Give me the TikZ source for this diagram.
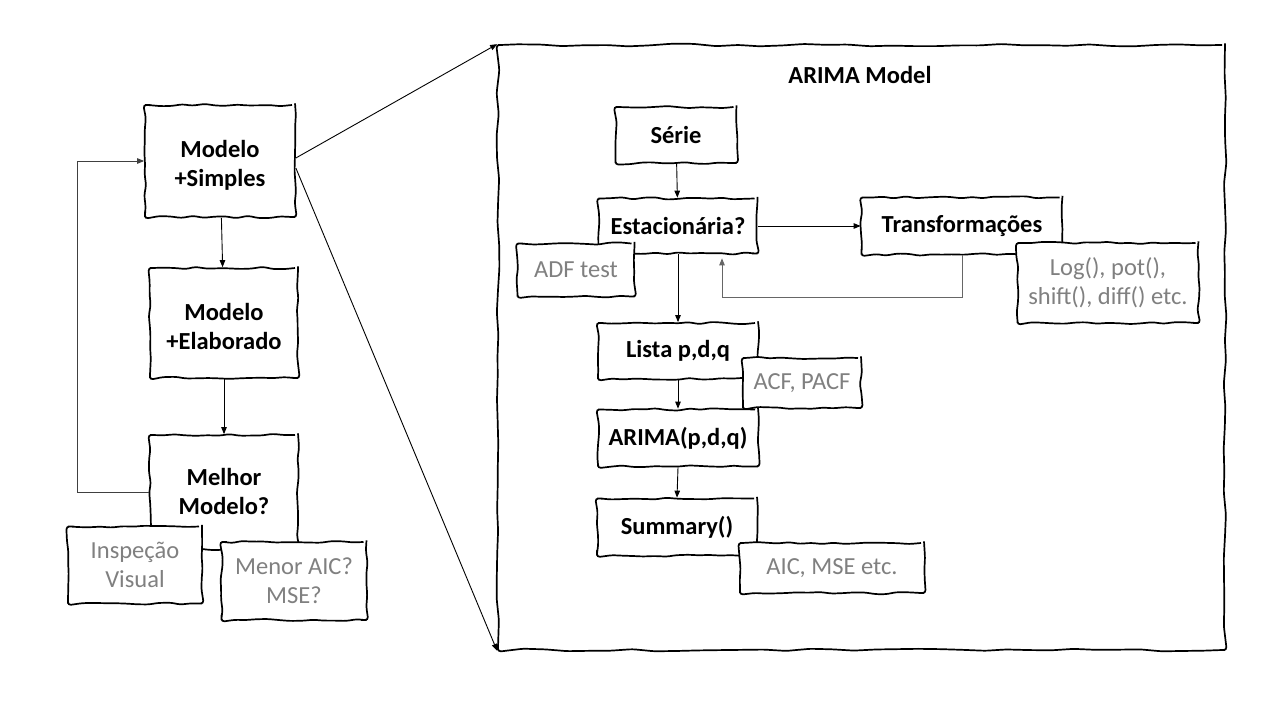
\documentclass[tikz,border=0pt]{standalone}
\usepackage{fontspec}
\setmainfont{Carlito}
\usetikzlibrary{arrows.meta,decorations.pathmorphing}
\newcommand{\dnt}[2]{\raisebox{-#1}[\height][\depth]{\begin{tabular}{@{}c@{}}#2\end{tabular}}}
\begin{document}
\begin{tikzpicture}[x=1pt,y=-1pt,
  sk/.style={draw, line width=1.7pt, fill=white, decorate,
    decoration={random steps,segment length=11pt,amplitude=1.2pt},
    rounded corners=3pt, inner sep=0pt, align=center,
    font=\fontsize{24.5}{29}\selectfont},
  mainbox/.style={sk, font=\bfseries\fontsize{24.5}{29}\selectfont},
  note/.style={sk, text=black!50},
  arr/.style={-{Triangle[length=7pt,width=5.5pt]}, line width=0.9pt},
]
\pgfmathsetseed{7}
\useasboundingbox (0,0) rectangle (1280,720);

% big frame
\node[sk, decoration={random steps,segment length=22pt,amplitude=1.4pt}, minimum width=727, minimum height=605] (big) at (861.5,347.5) {};
\node[font=\bfseries\fontsize{24.5}{29}\selectfont] (title) at (860,75) {ARIMA Model};

% left column
\node[mainbox, minimum width=150, minimum height=112] (simples) at (220,161) {\dnt{5pt}{Modelo\\+Simples}};
\node[mainbox, minimum width=148, minimum height=110] (elab) at (224,323) {\dnt{6pt}{Modelo\\+Elaborado}};
\node[mainbox, minimum width=148, minimum height=114] (melhor) at (224,492) {\dnt{2pt}{Melhor\\Modelo?}};
\node[note, minimum width=134, minimum height=77] (insp) at (135,565) {Inspeção\\Visual};
\node[note, minimum width=145, minimum height=78] (menor) at (294,581) {Menor AIC?\\MSE?};

\draw[arr] (simples) -- (elab);
\draw[arr] (elab) -- (melhor);
\draw[arr, black!75] (melhor.west) -- ++(-72,0) |- (simples.west);
\draw[arr] ([yshift=3pt]simples.east) -- (big.north west);
\draw[arr] ([yshift=-7pt]simples.east) -- (big.south west);

% right flow
\node[mainbox, minimum width=121, minimum height=56] (serie) at (676,135) {Série};
\node[mainbox, minimum width=159, minimum height=55] (est) at (678,226) {Estacionária?};
\node[note, minimum width=117, minimum height=53] (adf) at (576,270) {ADF test};
\node[mainbox, minimum width=201, minimum height=57] (trans) at (962,226) {Transformações};
\node[note, minimum width=181, minimum height=80] (logf) at (1108,283) {Log(), pot(),\\shift(), diff() etc.};
\node[mainbox, minimum width=160, minimum height=56] (lista) at (678,351) {Lista p,d,q};
\node[note, minimum width=118, minimum height=50] (acf) at (802,383) {ACF, PACF};
\node[mainbox, minimum width=160, minimum height=57] (arima) at (678,438) {ARIMA(p,d,q)};
\node[mainbox, minimum width=160, minimum height=57] (summ) at (677,527) {Summary()};
\node[note, minimum width=184, minimum height=50] (aic) at (832,568) {AIC, MSE etc.};

\draw[arr] (serie) -- (est);
\draw[arr] (est.east) -- (trans.west);
\draw[arr, black!60] (trans.south) -- ++(0,42) -| ([xshift=44pt,yshift=-4pt]est.south);
\draw[arr] (est.south) -- (lista.north);
\draw[arr] (lista.south) -- (arima.north);
\draw[arr] (arima.south) -- (summ.north);
\end{tikzpicture}
\end{document}
